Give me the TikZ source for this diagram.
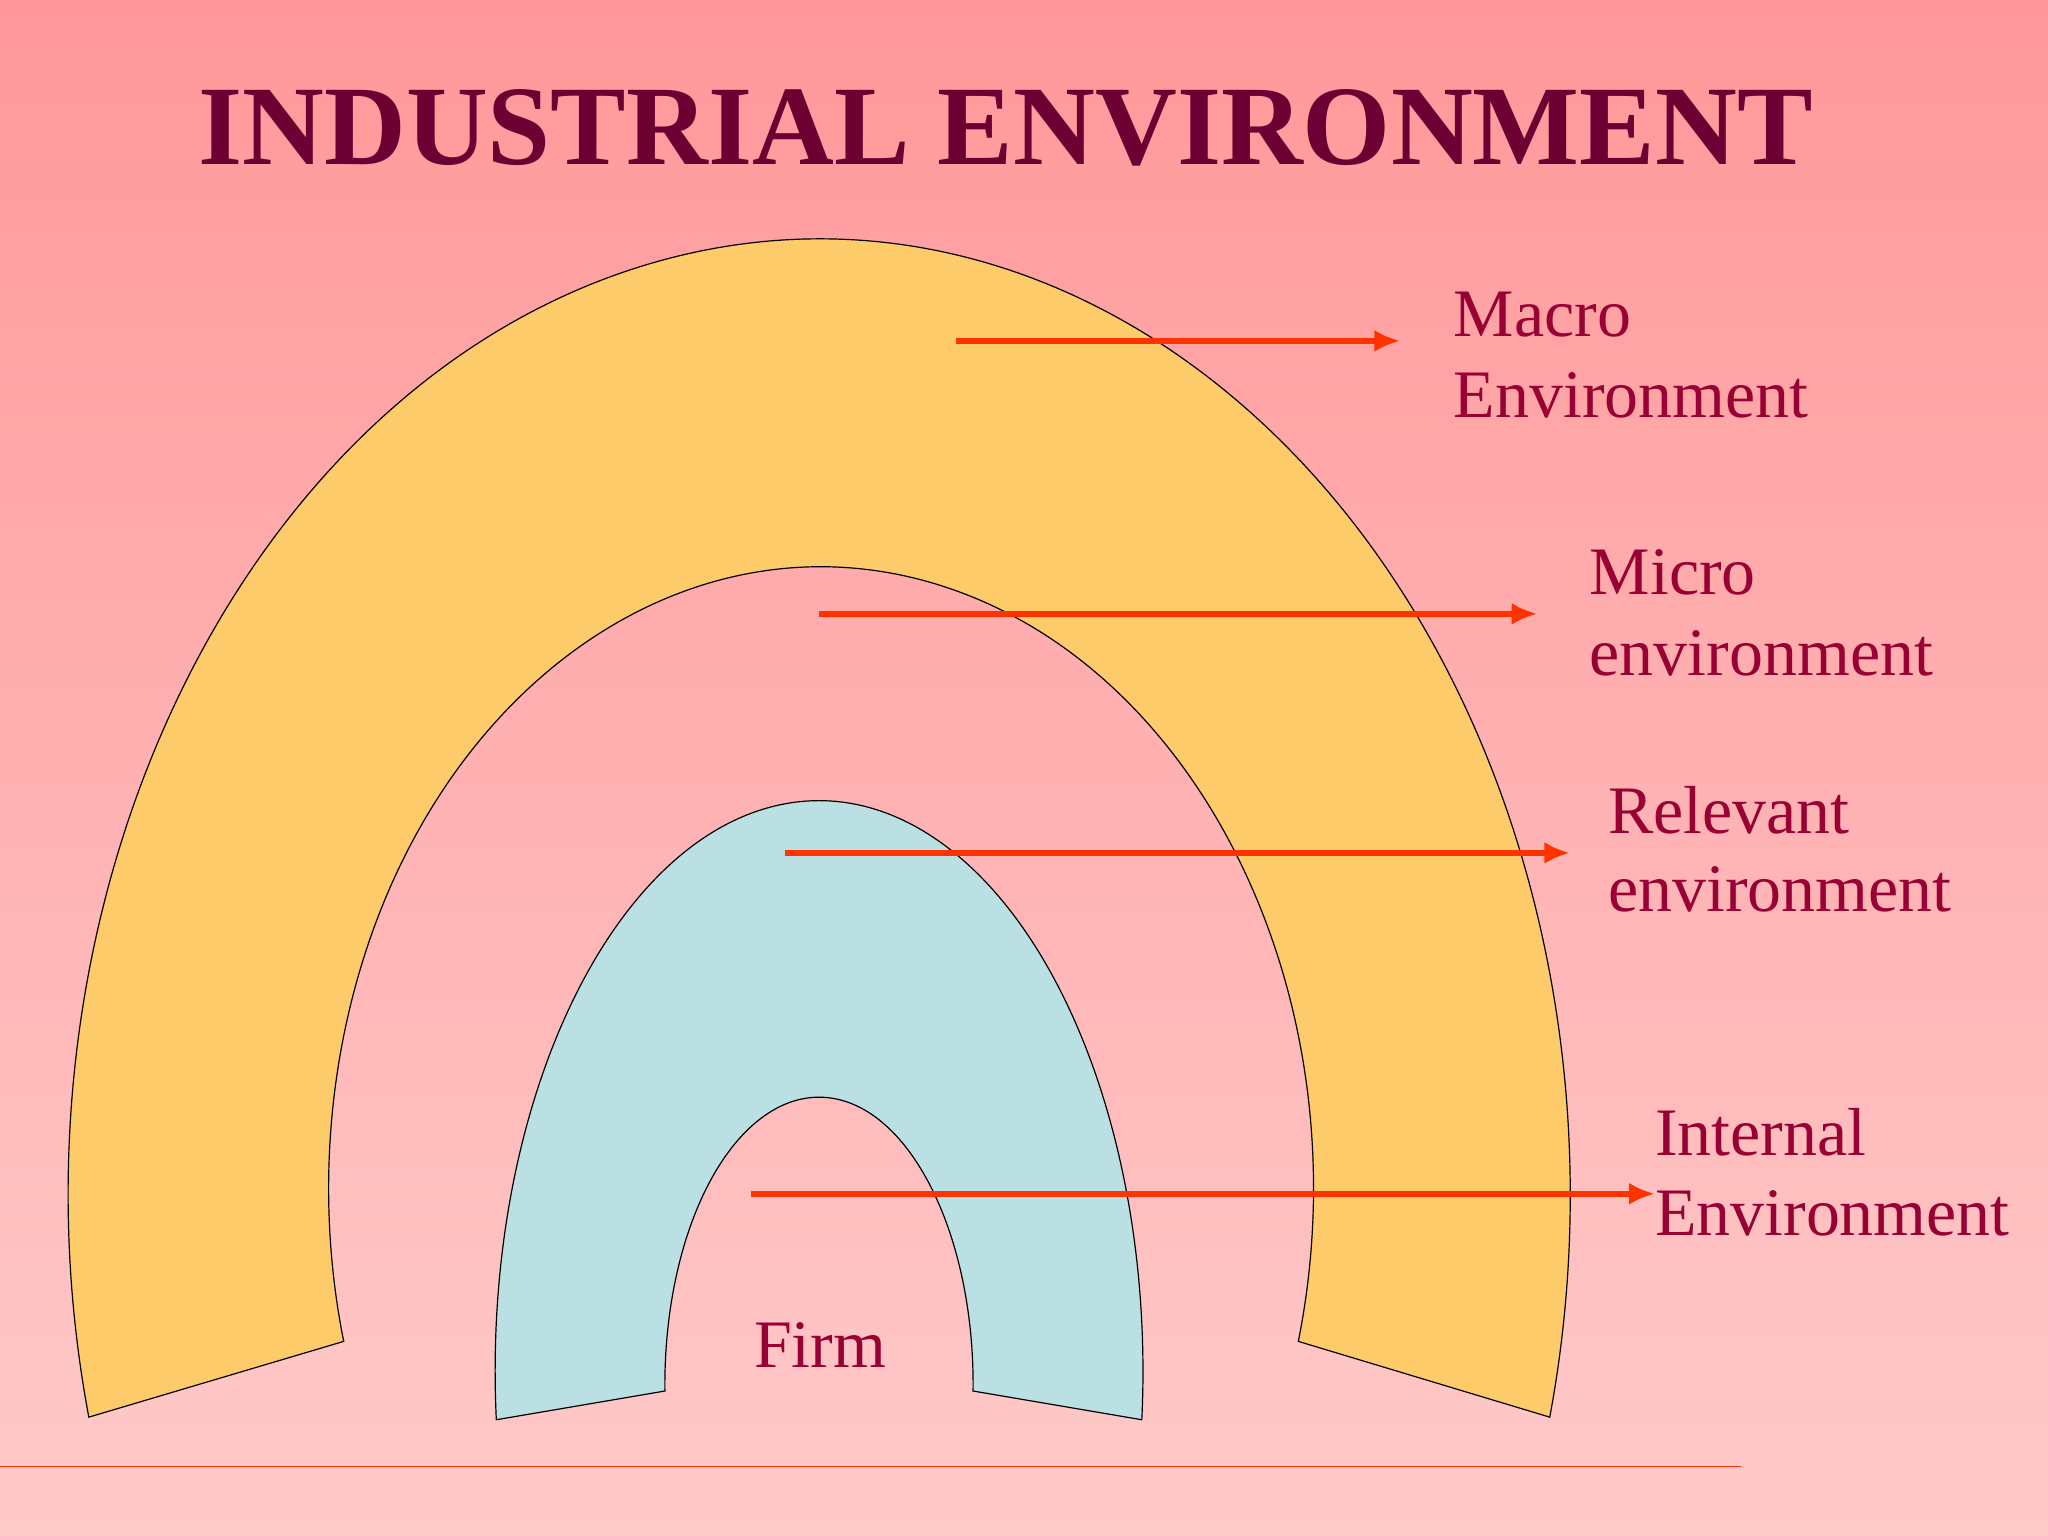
\documentclass[tikz,border=0pt]{standalone}
\usepackage{fontspec}
\setmainfont{Liberation Serif}
\definecolor{bgtop}{RGB}{255,152,154}
\definecolor{bgbot}{RGB}{255,202,202}
\definecolor{yel}{RGB}{253,203,106}
\definecolor{blu}{RGB}{186,224,228}
\definecolor{arr}{RGB}{255,51,0}
\definecolor{lab}{RGB}{153,0,51}
\definecolor{ttl}{RGB}{107,0,51}
\usetikzlibrary{arrows.meta}
\tikzset{
  arw/.style={draw=arr,line width=6.5pt,-{Latex[length=28pt,width=24pt]}},
  lbl/.style={anchor=base west,text=lab,inner sep=0pt,font=\fontsize{74}{88}\selectfont},
}
\begin{document}
\begin{tikzpicture}[x=0.05cm,y=0.05cm]
\useasboundingbox (0,0) rectangle (1568,1176);
\shade[top color=bgtop,bottom color=bgbot] (0,0) rectangle (1568,1176);
% yellow arch
\fill[yel,draw=black,line width=1.3pt] (68,91) arc[start angle=193.43,end angle=-13.43,x radius=575*0.05cm,y radius=732*0.05cm]
  -- (994,149) arc[start angle=-14.23,end angle=194.23,x radius=377*0.05cm,y radius=476*0.05cm] -- cycle;
% blue arch
\fill[blu,draw=black,line width=1.3pt] (380,89) arc[start angle=184.86,end angle=-4.86,x radius=248*0.05cm,y radius=437*0.05cm]
  -- (745,111) arc[start angle=-1.3,end angle=181.3,x radius=118*0.05cm,y radius=220*0.05cm] -- cycle;
% title
\node[text=ttl,inner sep=0pt] (title) at (770,1078) {\resizebox{61.8cm}{!}{\bfseries INDUSTRIAL ENVIRONMENT}};
% arrows
\coordinate (a1) at (732,915); \coordinate (b1) at (1072,915);
\coordinate (a2) at (627,706); \coordinate (b2) at (1177,706);
\coordinate (a3) at (601,523); \coordinate (b3) at (1202,523);
\coordinate (a4) at (575,262); \coordinate (b4) at (1267,262);
\draw[arw] (a1) -- (b1);
\draw[arw] (a2) -- (b2);
\draw[arw] (a3) -- (b3);
\draw[arw] (a4) -- (b4);
% labels
\node[lbl] (m1) at (1113,918) {Macro};
\node[lbl] (m2) at (1113,856) {Environment};
\node[lbl] (n1) at (1217,721) {Micro};
\node[lbl] (n2) at (1217,659) {environment};
\node[lbl] (r1) at (1231,538) {Relevant};
\node[lbl] (r2) at (1231,478) {environment};
\node[lbl] (i1) at (1267,291) {Internal};
\node[lbl] (i2) at (1267,230) {Environment};
\node[lbl,anchor=base] (firm) at (628,129) {Firm};
\draw[arr,line width=1.5pt] (0,53) -- (1333,53);
\end{tikzpicture}
\end{document}
